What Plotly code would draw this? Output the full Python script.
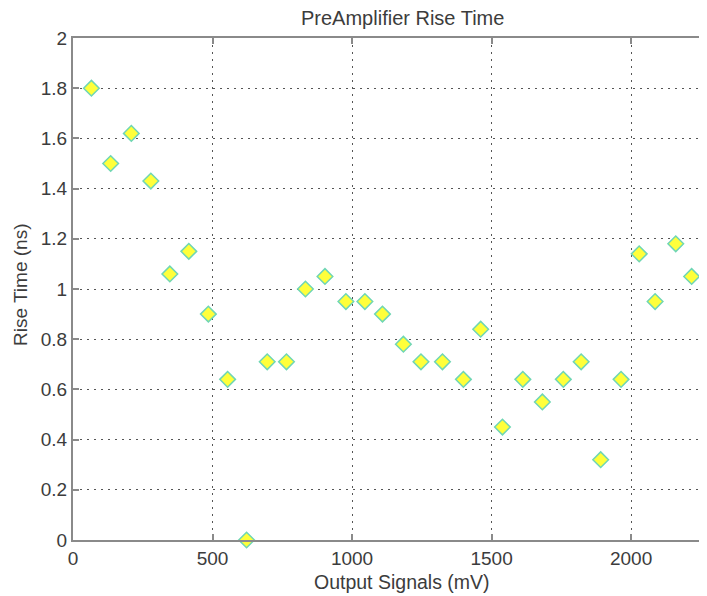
import plotly.graph_objects as go

# Data
output_mv = [66, 135, 209, 279, 347, 415, 485, 554, 622, 696, 765, 833, 903, 978,
             1046, 1109, 1184, 1247, 1324, 1399, 1461, 1539, 1612, 1682, 1757, 1821,
             1891, 1964, 2029, 2086, 2160, 2217]
rise_ns = [1.80, 1.50, 1.62, 1.43, 1.06, 1.15, 0.90, 0.64, 0.00, 0.71, 0.71, 1.00,
           1.05, 0.95, 0.95, 0.90, 0.78, 0.71, 0.71, 0.64, 0.84, 0.45, 0.64, 0.55,
           0.64, 0.71, 0.32, 0.64, 1.14, 0.95, 1.18, 1.05]
x_ticks = [0, 500, 1000, 1500, 2000]
y_ticks = [0, 0.2, 0.4, 0.6, 0.8, 1, 1.2, 1.4, 1.6, 1.8, 2]
y_tick_labels = ["0", "0.2", "0.4", "0.6", "0.8", "1", "1.2", "1.4", "1.6", "1.8", "2"]

font_family = "Liberation Sans, Arial, sans-serif"
text_color = "#3c3c3c"
grid_color = "#555555"
axis_color = "#8a8a8a"
fs = 19

# The page body has an 8px default margin; compensate so the plot lands where
# it sits in the reference window (707x596).
OFF = 8
PAGE_W, PAGE_H = 707, 596
W, H = PAGE_W - OFF, PAGE_H - OFF
L, R, T, B = 73 - OFF, 0, 38 - OFF, 56
pw, ph = W - L - R, H - T - B


def px_to_paper_x(px):
    return (px - OFF - L) / pw


def px_to_paper_y(py):
    return (H - B - (py - OFF)) / ph


fig = go.Figure()
fig.add_trace(go.Scatter(
    x=output_mv, y=rise_ns, mode="markers",
    marker=dict(symbol="diamond", size=12, color="#ffff3a",
                line=dict(color="#6fd6b4", width=1.5)),
    cliponaxis=False, showlegend=False,
))

fig.update_layout(
    width=W, height=H,
    margin=dict(l=L, r=R, t=T, b=B, autoexpand=False),
    paper_bgcolor="white", plot_bgcolor="white",
    font=dict(family=font_family, color=text_color),
    xaxis=dict(
        range=[0, 2272], tickvals=x_ticks, ticktext=[str(v) for v in x_ticks],
        showgrid=True, gridcolor=grid_color, gridwidth=1.2, griddash="2px,5px",
        zeroline=False, showline=True, linecolor=axis_color, linewidth=2,
        mirror="ticks", ticks="inside", ticklen=6, tickcolor=axis_color, tickwidth=1.5,
        tickfont=dict(size=fs, color=text_color), automargin=False,
    ),
    yaxis=dict(
        range=[0, 2], tickvals=y_ticks, ticktext=y_tick_labels,
        showgrid=True, gridcolor=grid_color, gridwidth=1.2, griddash="2px,5px",
        zeroline=False, showline=True, linecolor=axis_color, linewidth=2,
        mirror=False, ticks="inside", ticklen=6, tickcolor=axis_color, tickwidth=1.5,
        tickfont=dict(size=fs, color=text_color), automargin=False,
    ),
    annotations=[
        dict(text="PreAmplifier Rise Time", xref="paper", yref="paper",
             x=px_to_paper_x(402), y=px_to_paper_y(17.5), xanchor="center", yanchor="middle",
             showarrow=False, font=dict(size=20, color=text_color)),
        dict(text="Output Signals (mV)", xref="paper", yref="paper",
             x=px_to_paper_x(401.5), y=px_to_paper_y(582), xanchor="center", yanchor="middle",
             showarrow=False, font=dict(size=19.5, color=text_color)),
        dict(text="Rise Time (ns)", xref="paper", yref="paper", textangle=-90,
             x=px_to_paper_x(20), y=px_to_paper_y(285), xanchor="center", yanchor="middle",
             showarrow=False, font=dict(size=fs, color=text_color)),
    ],
)

fig.write_html("out.html")
